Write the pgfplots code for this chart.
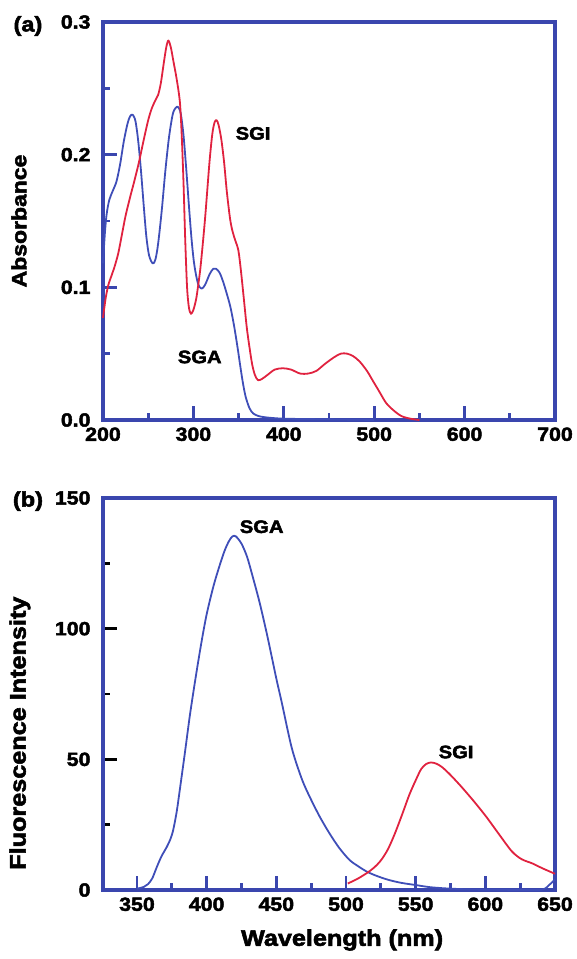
\documentclass[border=0pt]{standalone}
\usepackage{fontspec}
\setmainfont{Liberation Sans}[FakeStretch=1.12, BoldFeatures={FakeBold=2.5}]
\usepackage{pgfplots}
\pgfplotsset{compat=1.18}
\definecolor{frameblue}{HTML}{3A46AE}
\definecolor{sgablue}{HTML}{3F4EB8}
\definecolor{sgired}{HTML}{E0223F}

\pgfplotsset{
  specbox/.style={
    scale only axis, width=452pt,
    axis line style={frameblue, line width=3.4pt},
    every outer x axis line/.append style={line width=3.4pt},
    every outer y axis line/.append style={line width=3.4pt},
    tick align=inside, xtick pos=bottom, ytick pos=left,
    major tick length=14pt, minor tick length=7pt,
    every tick/.style={frameblue, line width=2.8pt},
    every major tick/.append style={line width=2.8pt},
    every minor tick/.append style={line width=2.8pt},
    every x tick/.append style={line width=2.8pt},
    every y tick/.append style={line width=2.8pt},
    every major x tick/.append style={line width=2.8pt},
    every minor x tick/.append style={line width=2.8pt},
    every major y tick/.append style={line width=2.8pt},
    every minor y tick/.append style={line width=2.8pt},
    /pgf/number format/assume math mode=true,
    ticklabel style={font=\fontsize{19}{19}\selectfont\bfseries},
    yticklabel style={xshift=-9pt},
    xticklabel style={yshift=-4pt},
    clip=false,
  },
  curve/.style={line width=1.8pt, line join=round, smooth, tension=0.5},
}
\tikzset{tag/.style={font=\fontsize{18}{18}\selectfont\bfseries}}

\begin{document}
\begin{tikzpicture}
\path[use as bounding box] (0,0) rectangle (576pt,959pt);

% (a) absorbance
\begin{axis}[specbox,
  at={(103pt,539pt)}, anchor=south west, height=398pt,
  xmin=200, xmax=700, ymin=0, ymax=0.3,
  xtick={200,300,...,700}, minor xtick={250,350,...,650},
  ytick={0,0.1,0.2,0.3}, minor ytick={0.05,0.15,0.25},
  yticklabel style={/pgf/number format/.cd, fixed, fixed zerofill, precision=1},
  ylabel={Absorbance},
  ylabel style={at={(axis description cs:-0.186,0.5)}, anchor=center,
    font=\fontsize{20.5}{20.5}\selectfont\bfseries},
]
\addplot[curve, sgablue] coordinates {
(200,0.118) (202,0.140) (204,0.155) (207,0.166) (211,0.173) (215,0.180)
(219,0.193) (223,0.210) (227,0.223) (230,0.229) (233,0.230) (236,0.225)
(239,0.210) (242,0.188) (245,0.162) (248,0.138) (251,0.124) (255,0.118)
(258,0.121) (261,0.133) (265,0.158) (269,0.188) (273,0.213) (277,0.230)
(280,0.235) (283,0.236) (286,0.231) (289,0.215) (292,0.190) (295,0.162)
(298,0.136) (301,0.117) (305,0.103) (309,0.099) (313,0.102) (318,0.110)
(322,0.114) (325,0.114) (329,0.111) (333,0.104) (337,0.095) (341,0.085)
(345,0.071) (349,0.054) (352,0.040) (355,0.027) (358,0.017) (362,0.009)
(366,0.005) (372,0.003) (380,0.002) (400,0.001) (450,0.0005) (500,0.0)
};
\addplot[curve, sgired] coordinates {
(200,0.077) (203,0.092) (206,0.102) (209,0.108) (213,0.116) (217,0.126)
(221,0.140) (225,0.154) (230,0.168) (235,0.181) (240,0.195) (245,0.211)
(250,0.226) (254,0.235) (258,0.241) (261,0.245) (264,0.254) (267,0.268)
(270,0.281) (272.3,0.286) (275,0.281) (278,0.270) (281.5,0.257) (285,0.240)
(287,0.216) (289,0.180) (291,0.135) (293,0.100) (295,0.085) (297.3,0.080)
(300,0.083) (303,0.091) (305,0.100) (307.5,0.113) (310,0.130) (312.8,0.151)
(315,0.170) (318,0.196) (321,0.216) (323.5,0.2245) (325.7,0.226) (328,0.222)
(331,0.211) (334,0.194) (337,0.172) (340.5,0.152) (343,0.143) (346,0.136)
(349.7,0.128) (352.5,0.113) (356,0.090) (359,0.070) (362,0.055) (365,0.042)
(368,0.034) (371.5,0.030) (376,0.031) (382,0.034) (390,0.038) (399,0.039)
(408,0.038) (418,0.035) (427,0.035) (436,0.037) (445,0.042) (455,0.047)
(463,0.050) (470,0.050) (477,0.048) (484,0.044) (492,0.037) (499,0.029)
(506,0.021) (513,0.013) (521,0.0075) (530,0.003) (540,0.001) (550,0.0)
};
\node[tag] at (axis cs:366,0.216) {SGI};
\node[tag] at (axis cs:307,0.0475) {SGA};
\node[font=\fontsize{21}{21}\selectfont\bfseries] at (axis description cs:-0.166,0.99) {(a)};
\end{axis}

% (b) fluorescence
\begin{axis}[specbox,
  at={(103pt,69pt)}, anchor=south west, height=392pt,
  xmin=325.6, xmax=650, ymin=0, ymax=150,
  xtick={350,400,...,650}, minor xtick={375,425,...,625},
  ytick={0,50,100,150}, minor ytick={25,75,125},
  every y tick/.append style={black, line width=2.2pt},
  xlabel={Wavelength (nm)},
  xlabel style={at={(axis description cs:0.529,-0.1276)}, anchor=center,
    font=\fontsize{22.5}{22.5}\selectfont\bfseries},
  ylabel={Fluorescence Intensity},
  ylabel style={at={(axis description cs:-0.184,0.40)}, anchor=center,
    font=\fontsize{22.5}{22.5}\selectfont\bfseries},
]
\addplot[curve, sgablue] coordinates {
(350,0.5) (355,1.2) (358,2.3) (361,4.5) (364,8.5) (367.5,12.8) (371.4,16.5)
(374,19.5) (376,23) (378.5,30) (381,39.4) (384.5,53) (388,67) (392,81)
(396,94) (400,105.5) (405,116.5) (409.5,124.5) (413,130) (416,133.5)
(418.5,135.3) (421,135.3) (425,132.5) (429,127.5) (433,120) (438,110)
(443,98.5) (447,88.5) (450.2,80.4) (454,71.5) (458,61.5) (461,54.5)
(464.3,48.6) (469,41.5) (474,35.6) (481,28.2) (488,21.8) (495,16.2)
(502.5,11.5) (509,9) (515.4,6.9) (523,5.2) (531,3.8) (540,2.7) (550,1.9)
(560,1.1) (572,0.6) (585,0.3) (600,0.1) (620,0.05) (638,0.0) (643,0.6)
(646,2) (650,4)
};
\addplot[curve, sgired] coordinates {
(501.3,2.5) (508,4.2) (515,6.5) (520,8.5) (525,11.3) (530,15.5) (535,21.5)
(540.5,29.2) (545.5,36.5) (550.3,42.3) (554,46.3) (557.5,48.2) (561,48.8)
(565,48.3) (569,47) (575,44) (583,39.4) (592,33.8) (600.7,28) (610,21.2)
(619,14.8) (626,11.8) (633.6,10.2) (641,8.3) (648.7,6.5) (650,6.2)
};
\node[tag] at (axis cs:439.5,139) {SGA};
\node[tag] at (axis cs:579,52.8) {SGI};
\node[font=\fontsize{21}{21}\selectfont\bfseries] at (axis description cs:-0.166,0.992) {(b)};
\end{axis}
\end{tikzpicture}
\end{document}
